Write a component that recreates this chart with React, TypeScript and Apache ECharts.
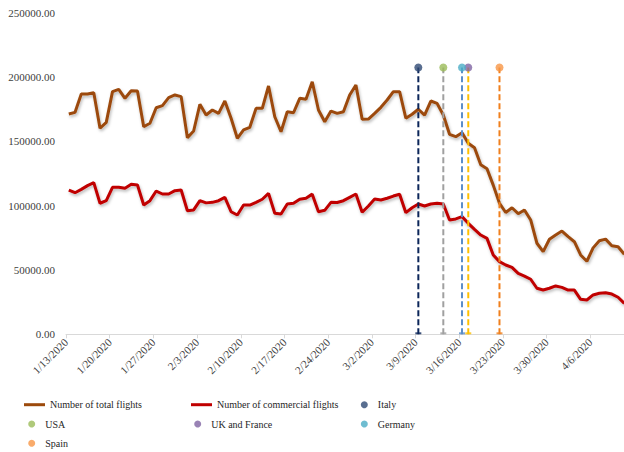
import React, { useEffect, useRef } from "react";
import * as echarts from "echarts";

// Daily values starting 1/13/2020 (index 0) to 4/11/2020 (index 89)
const totalFlights = [
  171300, 172600, 186900, 186900, 187900, 160200, 164800, 188700, 190500, 183500,
  189400, 189200, 161400, 164100, 176200, 177800, 184000, 186100, 184800, 152900,
  158100, 178800, 170500, 174400, 171800, 181400, 168000, 152400, 158900, 161000,
  175700, 175700, 193100, 169200, 157500, 173100, 172300, 183500, 182700, 196400,
  174400, 165300, 173600, 171800, 173100, 186100, 193900, 167200, 167400, 171800,
  176500, 182200, 188700, 188700, 168000, 171100, 175000, 170500, 181400, 179600,
  170500, 155500, 153700, 156800, 148500, 145100, 131900, 128800, 116000, 101900,
  94700, 98400, 93800, 96700, 88900, 70800, 64300, 73900, 77200, 80300,
  75900, 72000, 61700, 56800, 67200, 72700, 74000, 68800, 68100, 62300,
];

const commercialFlights = [
  112200, 110100, 112700, 115600, 117900, 101900, 103900, 114300, 114300, 113500,
  116600, 116100, 100500, 103900, 111400, 109100, 109100, 111700, 112200, 96100,
  96700, 104000, 102200, 102600, 103900, 106500, 95300, 92800, 100500, 100500,
  102600, 105000, 109600, 94100, 93500, 101300, 101900, 105100, 105800, 109000,
  95300, 96400, 102600, 102500, 103900, 106500, 109100, 94900, 99800, 105200,
  104400, 105800, 107500, 108900, 94600, 98400, 101300, 99800, 101300, 101900,
  101300, 88900, 89700, 91500, 86300, 81600, 77200, 74600, 61700, 56500,
  53900, 52100, 47400, 45300, 42800, 35800, 34400, 35800, 37600, 36500,
  34400, 34400, 27200, 26700, 30600, 31900, 32300, 31300, 28800, 24100,
];

const tickLabels = [
  "1/13/2020", "1/20/2020", "1/27/2020", "2/3/2020", "2/10/2020", "2/17/2020",
  "2/24/2020", "3/2/2020", "3/9/2020", "3/16/2020", "3/23/2020", "3/30/2020", "4/6/2020",
];

const eventNames = ["Italy", "USA", "UK and France", "Germany", "Spain"];
const eventDayIndex = [56, 60, 64, 63, 69];
const eventTopValue = 207500;
const eventDotColors = ["#2F4A74", "#9BBB59", "#8064A2", "#4BACC6", "#F79646"];
const eventLineColors = ["#0B2559", "#A0A0A0", "#FFC000", "#5B8DC9", "#F07F1C"];

const X_OFFSET = 0.45;
const SERIF = "Liberation Serif";

export default function App() {
  const ref = useRef<HTMLDivElement>(null);

  useEffect(() => {
    if (!ref.current) return;
    const chart = echarts.init(ref.current, undefined, { renderer: "svg" });

    const shadow = {
      shadowColor: "rgba(0,0,0,0.28)",
      shadowBlur: 3,
      shadowOffsetX: 1,
      shadowOffsetY: 2,
    };

    const series: any[] = [
      {
        name: "Number of total flights",
        type: "line",
        data: totalFlights.map((v, i) => [i + X_OFFSET, v]),
        symbol: "none",
        color: "#9C4A0C",
        lineStyle: { width: 3, color: "#9C4A0C", ...shadow },
        z: 2,
      },
      {
        name: "Number of commercial flights",
        type: "line",
        data: commercialFlights.map((v, i) => [i + X_OFFSET, v]),
        symbol: "none",
        color: "#C00000",
        lineStyle: { width: 3, color: "#C00000", ...shadow },
        z: 2,
      },
    ];

    eventNames.forEach((name, k) => {
      const x = eventDayIndex[k] + X_OFFSET;
      series.push({
        name: name + " line",
        type: "line",
        data: [
          [x, 0],
          [x, eventTopValue],
        ],
        symbol: "none",
        lineStyle: { width: 2, color: eventLineColors[k], type: [6, 3] },
        z: 3,
        silent: true,
      });
      series.push({
        name: name + " cap",
        type: "scatter",
        data: [[x, 0]],
        symbol: "rect",
        symbolSize: [6, 2],
        symbolOffset: [0, -1],
        itemStyle: { color: eventLineColors[k] },
        z: 3,
        silent: true,
      });
      series.push({
        name,
        type: "scatter",
        data: [[x, eventTopValue]],
        symbol: "circle",
        symbolSize: 8,
        color: eventDotColors[k],
        itemStyle: { color: eventDotColors[k] },
        z: 5,
      });
    });

    const legendText = { fontFamily: SERIF, fontSize: 10, color: "#262626" };
    const lineLegend = (name: string, left: number, top: number) => ({
      data: [name],
      left,
      top,
      padding: 0,
      icon: "rect",
      itemWidth: 21,
      itemHeight: 3,
      textStyle: legendText,
      selectedMode: false,
    });
    const dotLegend = (name: string, center: number, top: number) => ({
      data: [name],
      left: center - 8.5,
      top,
      padding: 0,
      icon: "circle",
      itemWidth: 17,
      itemHeight: 7,
      textStyle: legendText,
      selectedMode: false,
    });

    const r1 = 405.7;
    const r2 = 425;
    const r3 = 444.3;
    const half = 6;

    chart.setOption({
      animation: false,
      backgroundColor: "#ffffff",
      textStyle: { fontFamily: SERIF },
      grid: { left: 66, right: 0, top: 12.8, bottom: 117.7, containLabel: false },
      xAxis: {
        type: "value",
        min: 0,
        max: 89.4,
        interval: 7,
        axisLine: { show: true, lineStyle: { color: "#D9D9D9", width: 1 } },
        axisTick: { show: true, length: 4, lineStyle: { color: "#D9D9D9" } },
        splitLine: { show: false },
        axisLabel: {
          rotate: 45,
          margin: 6,
          showMaxLabel: false,
          fontFamily: SERIF,
          fontSize: 11,
          color: "#404040",
          formatter: (v: number) => {
            const k = Math.round(v / 7);
            return Math.abs(v - k * 7) < 1e-6 && tickLabels[k] ? tickLabels[k] : "";
          },
        },
      },
      yAxis: {
        type: "value",
        min: 0,
        max: 250000,
        interval: 50000,
        axisLine: { show: false },
        axisTick: { show: false },
        splitLine: { show: false },
        axisLabel: {
          margin: 11,
          fontFamily: SERIF,
          fontSize: 11,
          color: "#404040",
          formatter: (v: number) => v.toFixed(2),
        },
      },
      legend: [
        lineLegend("Number of total flights", 24, r1 - half),
        lineLegend("Number of commercial flights", 191, r1 - half),
        dotLegend("Italy", 369.3, r1 - half),
        dotLegend("USA", 36.7, r2 - half),
        dotLegend("UK and France", 202.7, r2 - half),
        dotLegend("Germany", 369.3, r2 - half),
        dotLegend("Spain", 36.7, r3 - half),
      ],
      series,
    });

    return () => chart.dispose();
  }, []);

  return (
    <div
      ref={ref}
      style={{ position: "fixed", left: 0, top: 0, width: 624, height: 452, background: "#fff" }}
    />
  );
}
